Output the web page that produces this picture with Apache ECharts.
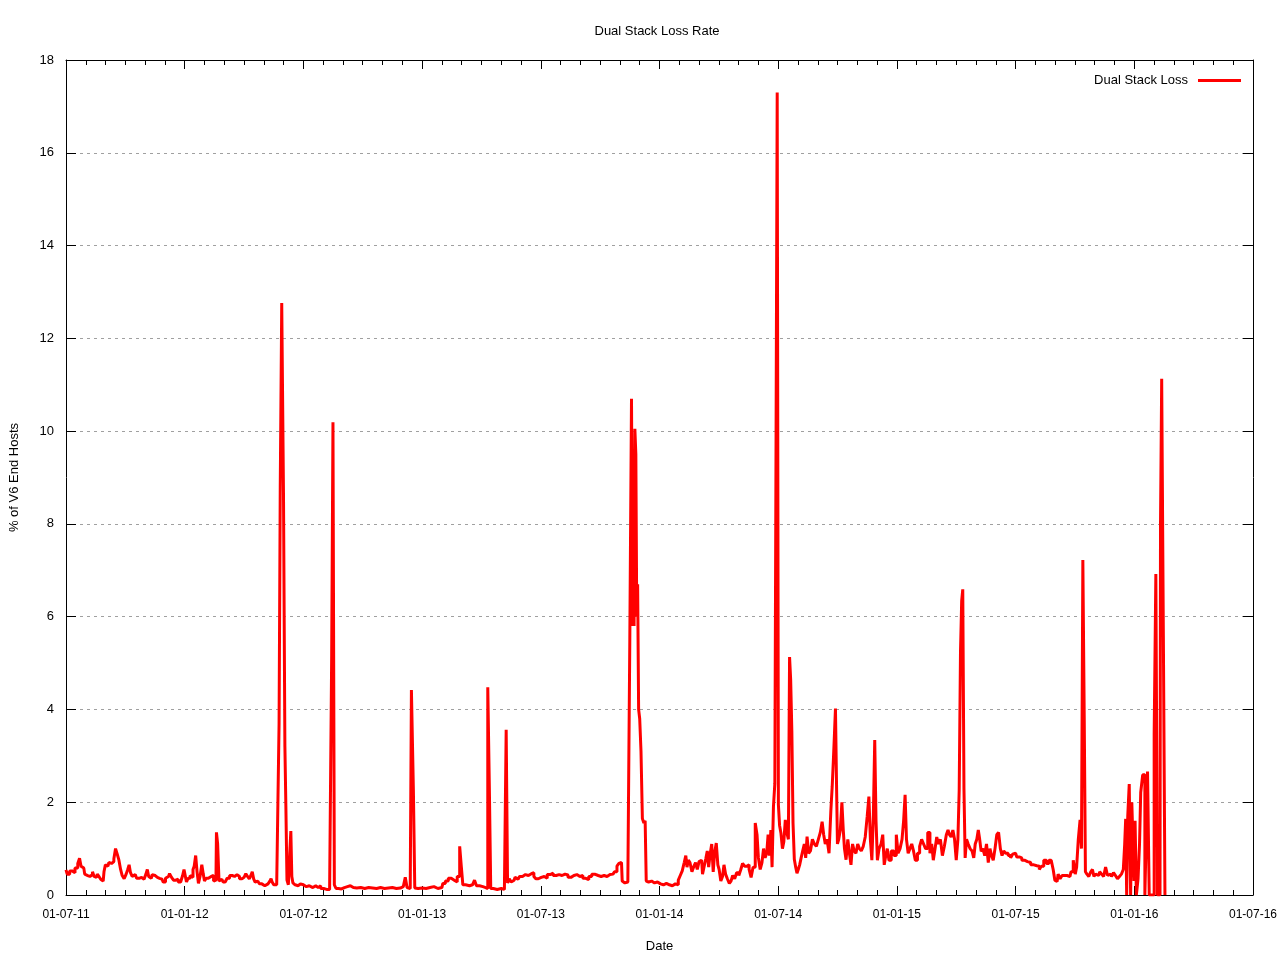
<!DOCTYPE html>
<html>
<head>
<meta charset="utf-8">
<script src="https://cdn.jsdelivr.net/npm/echarts@6/dist/echarts.min.js"></script>
<style>
html,body{margin:0;padding:0;background:#fff;}
#chart{width:1280px;height:960px;}
</style>
</head>
<body>
<div id="chart"></div>
<script>
// x values: months since 01-07-2011 (fractional)
var xTickLabels = ['01-07-11','01-01-12','01-07-12','01-01-13','01-07-13','01-01-14','01-07-14','01-01-15','01-07-15','01-01-16','01-07-16'];
var yTicks = [0,2,4,6,8,10,12,14,16,18];
var seriesName = 'Dual Stack Loss';

var months = [
0.00,0.12,0.25,0.37,0.54,0.65,0.72,0.80,0.90,0.99,1.10,1.21,1.30,1.38,1.46,1.54,1.62,1.71,1.80,1.88,
1.96,2.02,2.12,2.21,2.30,2.38,2.46,2.55,2.63,2.72,2.80,2.88,3.00,3.08,3.16,3.22,3.30,3.39,3.50,3.64,
3.75,3.89,4.00,4.08,4.14,4.22,4.31,4.40,4.51,4.62,4.73,4.85,4.98,5.08,5.18,5.29,5.38,5.49,5.60,5.74,
5.85,5.94,5.99,6.06,6.12,6.22,6.33,6.40,6.44,6.52,6.59,6.66,6.73,6.82,6.91,6.97,7.03,7.14,7.25,7.34,
7.42,7.50,7.58,7.63,7.70,7.77,7.88,8.00,8.09,8.20,8.34,8.45,8.59,8.70,8.84,8.95,9.05,9.13,9.22,9.31,
9.38,9.45,9.52,9.60,9.70,9.85,9.95,10.05,10.15,10.27,10.34,10.39,10.45,10.55,10.65,10.74,
10.80,10.86,10.95,11.04,11.09,11.14,11.20,11.28,11.34,11.39,11.44,11.50,11.58,11.68,11.80,11.90,
12.00,12.15,12.30,12.40,12.55,12.70,12.80,12.95,13.10,13.25,13.40,13.46,13.53,13.60,13.70,13.85,
14.00,14.15,14.30,14.45,14.60,14.80,15.00,15.20,15.40,15.60,15.80,16.00,16.20,16.40,16.60,16.80,
17.00,17.10,17.20,17.28,17.40,17.52,17.60,17.66,17.80,18.00,18.20,18.40,18.60,18.80,19.00,19.10,
19.25,19.40,19.55,19.70,19.85,19.95,20.02,20.10,20.30,20.50,20.60,20.70,20.80,21.00,21.15,21.28,
21.36,21.44,21.50,21.70,21.90,22.10,22.22,22.28,22.36,22.45,22.55,22.65,22.75,22.85,23.00,23.15,
23.30,23.45,23.60,23.70,23.80,23.95,24.10,24.25,24.40,24.55,24.70,24.85,25.00,25.15,25.30,25.45,
25.60,25.75,25.90,26.05,26.20,26.35,26.50,26.65,26.80,27.00,27.10,27.20,27.35,27.50,27.65,27.80,
27.90,28.00,28.08,28.15,28.25,28.35,28.45,28.55,28.62,28.67,28.70,28.73,28.78,28.83,28.87,28.92,
28.97,29.03,29.10,29.17,29.25,29.30,29.36,29.45,29.60,29.75,29.90,30.05,30.20,30.35,30.50,30.65,
30.80,30.90,31.00,31.10,31.20,31.30,31.36,31.42,31.50,31.58,31.70,31.78,31.87,31.95,32.05,32.13,
32.22,32.30,32.38,32.45,32.52,32.60,32.68,32.75,32.82,32.92,32.98,33.05,33.15,33.22,33.30,33.38,
33.48,33.58,33.65,33.75,33.85,33.95,34.07,34.15,34.25,34.35,34.48,34.58,34.68,34.78,34.90,34.96,
35.04,35.14,35.22,35.30,35.38,35.46,35.52,35.60,35.66,35.72,35.80,35.86,35.92,35.98,36.04,36.10,
36.18,36.25,36.32,36.40,36.48,36.55,36.60,36.66,36.72,36.78,36.85,36.92,36.98,37.05,37.12,37.20,
37.28,37.36,37.42,37.50,37.58,37.68,37.78,37.88,37.98,38.08,38.18,38.26,38.34,38.42,38.52,38.62,
38.70,38.76,38.82,38.87,38.92,38.97,39.02,39.10,39.18,39.26,39.32,39.38,39.48,39.56,39.64,39.72,
39.80,39.88,39.98,40.06,40.15,40.25,40.35,40.45,40.55,40.62,40.70,40.77,40.85,40.91,40.98,41.05,
41.15,41.25,41.32,41.40,41.48,41.55,41.65,41.78,41.92,42.02,42.10,42.22,42.30,42.38,42.45,42.52,
42.62,42.70,42.80,42.88,42.98,43.10,43.20,43.30,43.40,43.50,43.62,43.72,43.80,43.88,43.98,44.05,
44.15,44.25,44.35,44.45,44.55,44.62,44.70,44.78,44.88,44.95,45.05,45.12,45.18,45.25,45.30,45.36,
45.42,45.48,45.56,45.65,45.75,45.85,45.92,46.00,46.08,46.15,46.22,46.30,46.40,46.48,46.58,46.66,
46.75,46.82,46.92,47.00,47.10,47.18,47.28,47.35,47.45,47.55,47.70,47.80,47.90,48.00,48.12,48.25,
48.38,48.52,48.68,48.85,49.00,49.15,49.25,49.35,49.50,49.62,49.75,49.85,49.95,50.02,50.10,50.20,
50.30,50.40,50.55,50.65,50.75,50.85,50.98,51.05,51.12,51.22,51.30,51.36,51.44,51.50,51.56,51.65,
51.75,51.85,51.92,52.00,52.10,52.20,52.30,52.40,52.50,52.60,52.70,52.80,52.90,53.00,53.10,53.20,
53.30,53.40,53.49,53.54,53.59,53.64,53.70,53.79,53.84,53.91,53.96,54.01,54.07,54.14,54.24,54.29,
54.36,54.49,54.58,54.63,54.71,54.80,54.96,55.05,55.13,55.21,55.30,55.35,55.42,55.52,55.58
];

var loss = [
0.54,0.45,0.52,0.48,0.58,0.68,0.79,0.62,0.58,0.45,0.42,0.40,0.44,0.50,0.40,0.38,0.45,0.40,0.34,0.30,
0.50,0.65,0.62,0.70,0.68,0.72,0.78,1.00,0.88,0.75,0.55,0.42,0.35,0.45,0.55,0.65,0.48,0.40,0.44,0.36,
0.38,0.34,0.38,0.45,0.55,0.40,0.36,0.44,0.42,0.38,0.36,0.34,0.28,0.36,0.40,0.46,0.38,0.32,0.34,0.28,
0.32,0.42,0.55,0.42,0.28,0.36,0.42,0.38,0.55,0.62,0.85,0.50,0.25,0.40,0.65,0.45,0.30,0.36,0.33,0.40,
0.42,0.30,0.32,1.35,1.10,0.30,0.34,0.28,0.30,0.36,0.42,0.40,0.44,0.40,0.35,0.38,0.42,0.46,0.40,0.35,
0.42,0.50,0.35,0.28,0.30,0.24,0.26,0.20,0.24,0.26,0.30,0.35,0.28,0.22,0.22,0.20,
3.68,8.80,12.76,8.57,3.20,1.89,0.32,0.22,0.90,1.38,0.40,0.26,0.22,0.20,0.24,0.20,
0.22,0.18,0.20,0.16,0.20,0.16,0.20,0.14,0.12,0.12,0.14,5.18,10.19,0.22,0.14,0.13,
0.16,0.18,0.20,0.16,0.15,0.16,0.14,0.16,0.15,0.14,0.16,0.14,0.15,0.16,0.14,0.15,
0.18,0.22,0.38,0.16,0.14,4.42,2.26,0.15,0.14,0.15,0.14,0.16,0.18,0.14,0.16,0.25,
0.30,0.36,0.32,0.28,0.40,1.05,0.60,0.22,0.20,0.22,0.20,0.32,0.20,0.18,0.16,0.14,
4.48,2.30,0.14,0.12,0.14,0.12,0.14,3.56,0.26,0.35,0.28,0.32,0.38,0.34,0.40,0.44,
0.42,0.46,0.48,0.40,0.35,0.38,0.40,0.36,0.44,0.47,0.42,0.44,0.42,0.45,0.43,0.38,
0.42,0.44,0.40,0.42,0.36,0.33,0.40,0.45,0.42,0.40,0.36,0.42,0.40,0.44,0.45,0.50,
0.62,0.68,0.70,0.30,0.26,0.28,0.26,5.52,10.70,5.80,9.25,5.80,10.05,9.50,6.00,6.70,
4.00,3.80,3.10,1.65,1.55,1.60,0.30,0.28,0.30,0.26,0.28,0.24,0.22,0.25,0.22,0.20,
0.24,0.22,0.32,0.42,0.52,0.70,0.85,0.60,0.75,0.70,0.50,0.62,0.70,0.55,0.72,0.75,
0.45,0.62,0.78,0.95,0.60,0.88,1.10,0.50,0.90,1.12,0.65,0.55,0.30,0.40,0.65,0.45,
0.35,0.25,0.30,0.42,0.35,0.48,0.42,0.55,0.68,0.62,0.65,0.55,0.38,0.60,1.55,1.30,
0.80,0.55,0.70,1.00,0.80,0.90,1.30,0.85,1.40,0.60,1.90,2.40,9.63,17.30,1.95,1.50,
1.33,1.00,1.15,1.62,1.34,1.20,5.13,4.65,3.54,1.55,0.77,0.60,0.47,0.55,0.65,0.80,
0.95,1.10,0.80,1.26,0.90,0.95,1.20,1.10,1.05,1.20,1.35,1.58,1.30,1.10,1.20,0.90,
1.80,2.34,2.91,3.48,4.02,2.50,1.10,1.20,1.40,2.00,1.40,1.00,0.76,1.20,0.90,0.65,
1.10,0.95,0.90,1.10,1.00,0.95,1.05,1.25,1.70,2.12,1.20,0.75,1.70,3.34,1.60,0.75,
1.00,1.10,1.30,0.65,0.85,1.00,0.75,0.95,0.85,1.30,0.90,1.00,1.20,1.60,2.16,1.20,
0.90,1.00,1.10,0.95,0.75,0.90,1.05,1.20,1.10,1.00,1.35,0.90,1.10,0.75,1.00,1.25,
1.10,1.20,0.85,1.05,1.30,1.40,1.30,1.25,1.40,1.20,0.75,1.20,2.27,5.24,6.34,6.59,
2.30,0.80,1.20,1.10,1.00,0.95,0.80,1.10,1.20,1.40,1.20,0.94,1.00,0.85,1.10,0.70,
1.00,0.85,0.75,1.00,1.30,1.35,1.00,0.85,0.95,0.90,0.85,0.80,0.88,0.90,0.82,0.80,
0.75,0.72,0.70,0.65,0.63,0.62,0.55,0.62,0.75,0.68,0.75,0.72,0.55,0.32,0.29,0.45,
0.35,0.42,0.42,0.38,0.40,0.50,0.75,0.45,0.60,1.20,1.62,1.00,7.22,3.83,0.50,0.45,
0.40,0.50,0.55,0.40,0.45,0.42,0.50,0.45,0.40,0.60,0.42,0.45,0.40,0.48,0.42,0.35,
0.40,0.45,0.55,1.10,1.64,0,1.70,2.39,0,2.00,1.10,0.30,1.60,0,0.35,1.10,
2.21,2.59,0,1.30,2.66,0,0,3.47,6.92,0,0,7.97,11.13,5.57,0
];

var seriesData = months.map(function (m, i) { return [m, loss[i]]; });

var chart = echarts.init(document.getElementById('chart'), null, {renderer: 'canvas'});
var FONT = 'Liberation Sans';
var axisLineStyle = {color: '#000', width: 1};

chart.setOption({
  animation: false,
  backgroundColor: '#ffffff',
  textStyle: {fontFamily: FONT},
  title: {
    text: 'Dual Stack Loss Rate',
    left: 652, top: 20, textAlign: 'center',
    textStyle: {fontFamily: FONT, fontSize: 13, fontWeight: 'normal', color: '#000'}
  },
  legend: {
    data: [{name: seriesName, icon: 'rect'}],
    right: 34, top: 69,
    align: 'right',
    itemWidth: 43, itemHeight: 3,
    itemGap: 0,
    textStyle: {fontFamily: FONT, fontSize: 13, color: '#000', padding: [0, 5, 0, 0]}
  },
  grid: {left: 64, right: 25, top: 60, bottom: 65, containLabel: false},
  xAxis: [{
    type: 'value', min: 0, max: 60, interval: 6, position: 'bottom',
    name: 'Date', nameLocation: 'middle', nameGap: 45,
    nameTextStyle: {fontFamily: FONT, fontSize: 13, color: '#000'},
    axisLine: {show: true, onZero: false, lineStyle: axisLineStyle},
    axisTick: {show: true, inside: true, length: 9, lineStyle: axisLineStyle},
    minorTick: {show: true, splitNumber: 6, length: 5, lineStyle: axisLineStyle},
    axisLabel: {
      margin: 14, color: '#000', fontFamily: FONT, fontSize: 12,
      showMinLabel: true, showMaxLabel: true,
      formatter: function (v) { return xTickLabels[Math.round(v / 6)] || ''; }
    },
    splitLine: {show: false}
  }, {
    type: 'value', min: 0, max: 60, interval: 6, position: 'top',
    axisLine: {show: true, onZero: false, lineStyle: axisLineStyle},
    axisTick: {show: true, inside: true, length: 9, lineStyle: axisLineStyle},
    minorTick: {show: true, splitNumber: 6, length: 5, lineStyle: axisLineStyle},
    axisLabel: {show: false},
    splitLine: {show: false}
  }],
  yAxis: [{
    type: 'value', min: 0, max: 18, interval: 2, position: 'left',
    name: '% of V6 End Hosts', nameLocation: 'middle', nameGap: 45, nameRotate: 90,
    nameTextStyle: {fontFamily: FONT, fontSize: 13, color: '#000'},
    axisLine: {show: true, onZero: false, lineStyle: axisLineStyle},
    axisTick: {show: true, inside: true, length: 10, lineStyle: axisLineStyle},
    axisLabel: {
      margin: 12, color: '#000', fontFamily: FONT, fontSize: 13,
      formatter: function (v) { return yTicks.indexOf(v) >= 0 ? String(v) : ''; }
    },
    splitLine: {show: true, lineStyle: {color: '#a0a0a0', width: 1, type: [3, 4]}}
  }, {
    type: 'value', min: 0, max: 18, interval: 2, position: 'right',
    axisLine: {show: true, onZero: false, lineStyle: axisLineStyle},
    axisTick: {show: true, inside: true, length: 10, lineStyle: axisLineStyle},
    axisLabel: {show: false},
    splitLine: {show: false}
  }],
  series: [{
    name: seriesName,
    type: 'line',
    xAxisIndex: 0, yAxisIndex: 0,
    data: seriesData,
    step: 'middle',
    showSymbol: false,
    symbol: 'none',
    lineStyle: {color: '#ff0000', width: 3},
    itemStyle: {color: '#ff0000'},
    z: 3
  }]
});
</script>
</body>
</html>
